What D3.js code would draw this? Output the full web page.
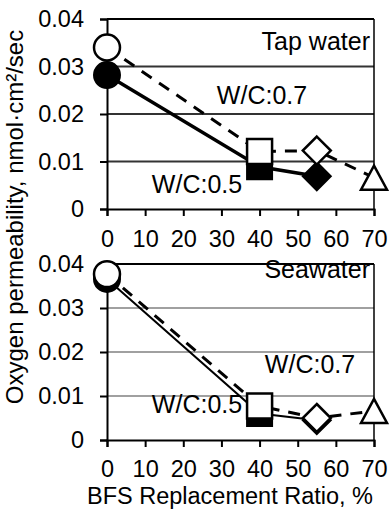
<!DOCTYPE html>
<html>
<head>
<meta charset="utf-8">
<script src="https://cdn.jsdelivr.net/npm/d3@7"></script>
<style>
body{margin:0;background:#fff;}
text{font-family:"Liberation Sans",Arial,sans-serif;fill:#000;}
</style>
</head>
<body>
<div id="chart"></div>
<script>
// BFS replacement ratio (%)
var ratios = [0, 40, 55, 70];
var xTicks = [0, 10, 20, 30, 40, 50, 60, 70];
var yTicks = [0, 0.01, 0.02, 0.03, 0.04];
var markers = ["circle", "square", "diamond", "triangle"];

// tap water
var tapWC07 = [0.034, 0.0121, 0.0123, 0.0066];
var tapWC05 = [0.0282, 0.0089, 0.0069];
// seawater
var seaWC07 = [0.0377, 0.0077, 0.005, 0.0066];
var seaWC05 = [0.0366, 0.006, 0.0045];

var width = 389, height = 511;

var svg = d3.select("#chart").append("svg")
    .attr("width", width)
    .attr("height", height);

var x = d3.scaleLinear().domain([0, 70]).range([107, 374]);

var panels = [
    {top: 19, bottom: 209, open: tapWC07, filled: tapWC05, grid: "#333", lw: 3.5, name: "Tap water",
     nameY: 50, tickPad: 14, lbl7: [262, 104], lbl5: [197, 193]},
    {top: 264, bottom: 440, open: seaWC07, filled: seaWC05, grid: "#a0a0a0", lw: 2, name: "Seawater",
     nameY: 278, tickPad: 13, lbl7: [310, 373], lbl5: [197, 413]}
];

//marker paths, centred on 0,0
function markerPath( kind ){
    if( kind == "circle" ) return d3.symbol().type(d3.symbolCircle).size(530)();
    if( kind == "square" ) return "M-12.5,-12.5H12.5V12.5H-12.5Z";
    if( kind == "diamond" ) return "M0,-14L14,0L0,14L-14,0Z";
    return "M0,-12L13,12L-13,12Z";
}

panels.forEach(function( p ){
    var y = d3.scaleLinear().domain([0, 0.04]).range([p.bottom, p.top]);
    var g = svg.append("g");

    //gridlines
    g.selectAll(".grid").data(yTicks.slice(1)).enter().append("line")
        .attr("x1", x(0)).attr("x2", x(70))
        .attr("y1", function(d){ return y(d); })
        .attr("y2", function(d){ return y(d); })
        .attr("stroke", function(d){ return d == 0.04 ? "#000" : p.grid; })
        .attr("stroke-width", 2);

    //right border
    g.append("line")
        .attr("x1", x(70)).attr("x2", x(70))
        .attr("y1", y(0.04)).attr("y2", y(0))
        .attr("stroke", "#000").attr("stroke-width", 1.5);

    //y axis
    var yAxis = d3.axisLeft(y).tickValues(yTicks).tickSize(7).tickPadding(16)
        .tickFormat(function(d){ return d == 0 ? "0" : d3.format(".2f")(d); });
    var ya = g.append("g").attr("transform", "translate(" + x(0) + ",0)").call(yAxis);

    //x axis
    var xAxis = d3.axisBottom(x).tickValues(xTicks).tickSize(7).tickPadding(p.tickPad);
    var xa = g.append("g").attr("transform", "translate(0," + y(0) + ")").call(xAxis);

    [ya, xa].forEach(function( a ){
        a.select(".domain").attr("stroke", "#000").attr("stroke-width", 2);
        a.selectAll(".tick line").attr("stroke", "#000").attr("stroke-width", 2);
        a.selectAll("text").attr("font-size", 23.5).attr("fill", "#000")
            .style("font-family", "'Liberation Sans', Arial, sans-serif");
    });

    var line = d3.line()
        .x(function(d, i){ return x(ratios[i]); })
        .y(function(d){ return y(d); });

    //dashed line (W/C 0.7)
    g.append("path").datum(p.open)
        .attr("d", line)
        .attr("fill", "none").attr("stroke", "#000")
        .attr("stroke-width", 3).attr("stroke-dasharray", "12,9");

    //solid line (W/C 0.5)
    g.append("path").datum(p.filled)
        .attr("d", line)
        .attr("fill", "none").attr("stroke", "#000")
        .attr("stroke-width", p.lw);

    //filled markers
    g.selectAll(".filled").data(p.filled).enter().append("path")
        .attr("transform", function(d, i){ return "translate(" + x(ratios[i]) + "," + y(d) + ")"; })
        .attr("d", function(d, i){ return markerPath(markers[i]); })
        .attr("fill", "#000").attr("stroke", "#000").attr("stroke-width", 2);

    //open markers
    g.selectAll(".open").data(p.open).enter().append("path")
        .attr("transform", function(d, i){ return "translate(" + x(ratios[i]) + "," + y(d) + ")"; })
        .attr("d", function(d, i){ return markerPath(markers[i]); })
        .attr("fill", "#fff").attr("stroke", "#000").attr("stroke-width", 2.5);

    //labels
    g.append("text").attr("x", 370).attr("y", p.nameY)
        .attr("text-anchor", "end").attr("font-size", 25).text(p.name);
    g.append("text").attr("x", p.lbl7[0]).attr("y", p.lbl7[1])
        .attr("text-anchor", "middle").attr("font-size", 25).text("W/C:0.7");
    g.append("text").attr("x", p.lbl5[0]).attr("y", p.lbl5[1])
        .attr("text-anchor", "middle").attr("font-size", 25).text("W/C:0.5");
});

//axis titles
svg.append("text")
    .attr("transform", "translate(23,217) rotate(-90)")
    .attr("text-anchor", "middle").attr("font-size", 24)
    .text("Oxygen permeability, nmol\u00b7cm\u00b2/sec");

svg.append("text")
    .attr("x", 230).attr("y", 504)
    .attr("text-anchor", "middle").attr("font-size", 23.5)
    .text("BFS Replacement Ratio, %");
</script>
</body>
</html>
